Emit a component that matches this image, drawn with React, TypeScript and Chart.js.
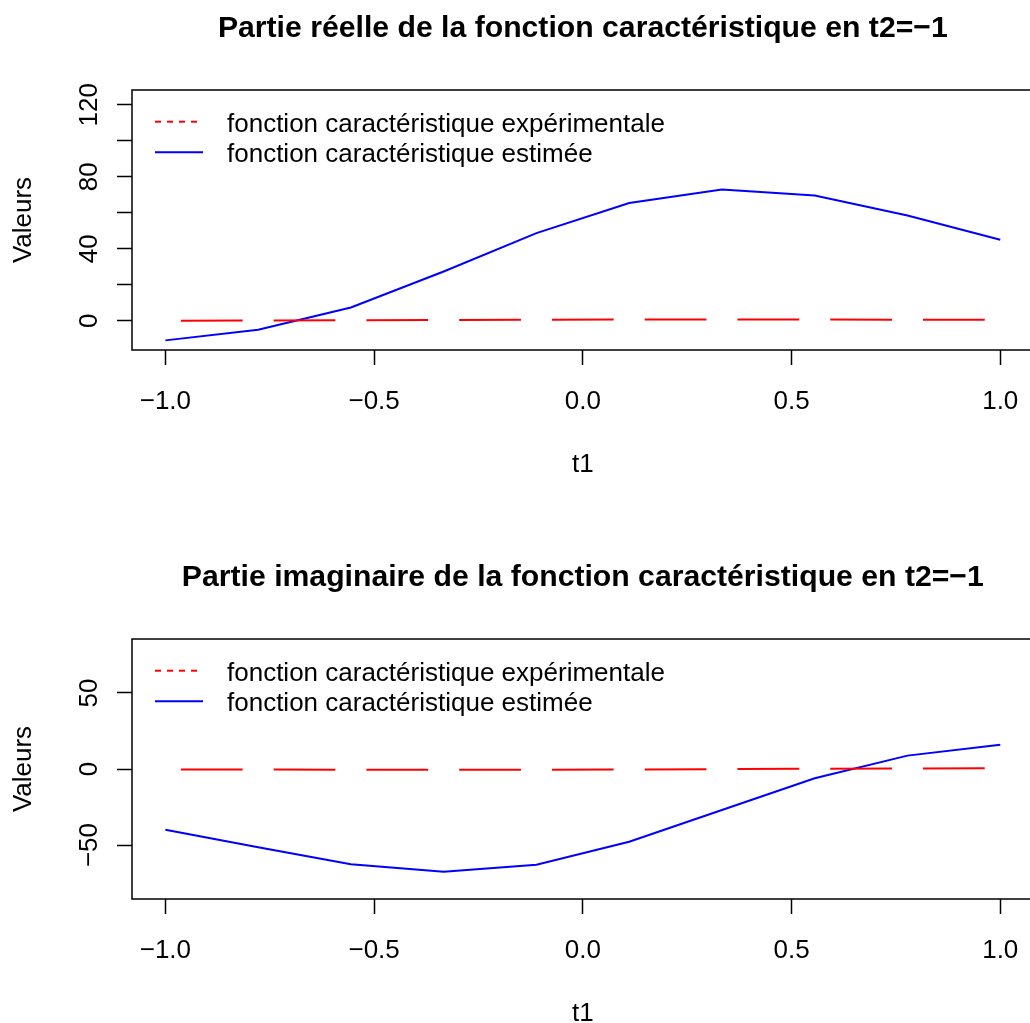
import React, { useEffect, useRef } from 'react';
import { Chart, registerables } from 'chart.js';

Chart.register(...registerables);

// ---------- data ----------
const t1Values = [-1, -0.7778, -0.5556, -0.3333, -0.1111, 0.1111, 0.3333, 0.5556, 0.7778, 1];

const reelExperimentale = [0.05, 0.15, 0.25, 0.4, 0.55, 0.7, 0.75, 0.7, 0.6, 0.5];
const reelEstimee = [-10.9, -5.0, 7.4, 27.4, 48.7, 65.4, 72.9, 69.6, 58.5, 45.0];

const imagExperimentale = [-0.3, -0.4, -0.45, -0.5, -0.45, -0.3, -0.1, 0.15, 0.35, 0.45];
const imagEstimee = [-40.0, -51.5, -62.7, -67.5, -63.0, -47.8, -27.0, -6.1, 8.8, 16.0];

const xRange = [-1.08, 1.08];
const xTickValues = [-1, -0.5, 0, 0.5, 1];
const xTickLabels = ['\u22121.0', '\u22120.5', '0.0', '0.5', '1.0'];

const reelYRange = [-16.25, 128.25];
const reelYTickValues = [0, 20, 40, 60, 80, 100, 120];
const reelYLabelValues = [0, 40, 80, 120];
const reelYLabels = ['0', '40', '80', '120'];

const imagYRange = [-85.5, 85.5];
const imagYTickValues = [-50, 0, 50];
const imagYLabelValues = [-50, 0, 50];
const imagYLabels = ['\u221250', '0', '50'];

const legendLabels = [
  'fonction caract\u00e9ristique exp\u00e9rimentale',
  'fonction caract\u00e9ristique estim\u00e9e',
];
const titleReel = 'Partie r\u00e9elle de la fonction caract\u00e9ristique en t2=\u22121';
const titleImag = 'Partie imaginaire de la fonction caract\u00e9ristique en t2=\u22121';
const xAxisTitle = 't1';
const yAxisTitle = 'Valeurs';

// ---------- style ----------
const FONT = '"Liberation Sans", Arial, Helvetica, sans-serif';
const TEXT_SIZE = 26;
const RED = '#FF0000';
const BLUE = '#0000FF';
const LINE_W = 2;
const CANVAS_W = 1040;
const CANVAS_H = 486;

const rDecor = {
  id: 'rDecor',
  afterDatasetsDraw(chart: any) {
    const ctx = chart.ctx;
    const a = chart.chartArea;
    const meta = chart.getDatasetMeta(0);
    const gap = 15.5;
    ctx.save();
    ctx.beginPath();
    ctx.rect(a.left, a.top, a.right - a.left, a.bottom - a.top);
    ctx.clip();
    ctx.strokeStyle = RED;
    ctx.lineWidth = LINE_W;
    ctx.lineCap = 'butt';
    for (let i = 0; i < meta.data.length - 1; i++) {
      const p = meta.data[i];
      const q = meta.data[i + 1];
      const dx = q.x - p.x;
      const dy = q.y - p.y;
      const L = Math.hypot(dx, dy);
      if (L <= 2 * gap) continue;
      const ux = dx / L;
      const uy = dy / L;
      ctx.beginPath();
      ctx.moveTo(p.x + ux * gap, p.y + uy * gap);
      ctx.lineTo(q.x - ux * gap, q.y - uy * gap);
      ctx.stroke();
    }
    ctx.restore();
  },
  afterDraw(chart: any, _args: any, opts: any) {
    const ctx = chart.ctx;
    const a = chart.chartArea;
    const ys = chart.scales.y;
    ctx.save();
    // box
    ctx.strokeStyle = '#000';
    ctx.lineWidth = 1.5;
    ctx.strokeRect(a.left, a.top, a.right - a.left, a.bottom - a.top);

    // title
    ctx.fillStyle = '#000';
    ctx.font = `bold 30.2px ${FONT}`;
    ctx.textAlign = 'center';
    ctx.textBaseline = 'alphabetic';
    ctx.fillText(opts.title, (a.left + a.right) / 2, 37);

    // y tick labels (rotated, R style)
    ctx.font = `${TEXT_SIZE}px ${FONT}`;
    (opts.yLabelValues as number[]).forEach((v, i) => {
      const y = ys.getPixelForValue(v);
      ctx.save();
      ctx.translate(97, y);
      ctx.rotate(-Math.PI / 2);
      ctx.textAlign = 'center';
      ctx.textBaseline = 'alphabetic';
      ctx.fillText(opts.yLabels[i], 0, 0);
      ctx.restore();
    });

    // legend
    const lx0 = a.left + 23;
    const lx1 = a.left + 71;
    const rows = [a.top + 31.7, a.top + 62.3];
    const colors = [RED, BLUE];
    const dashes = [[6, 6], []];
    rows.forEach((ry, i) => {
      ctx.beginPath();
      ctx.strokeStyle = colors[i];
      ctx.lineWidth = LINE_W;
      ctx.setLineDash(dashes[i]);
      ctx.moveTo(lx0, ry);
      ctx.lineTo(lx1, ry);
      ctx.stroke();
      ctx.setLineDash([]);
      ctx.fillStyle = '#000';
      ctx.textAlign = 'left';
      ctx.textBaseline = 'alphabetic';
      ctx.fillText(legendLabels[i], a.left + 95, ry + 10);
    });
    ctx.restore();
  },
};

function makeConfig(
  exp: number[],
  est: number[],
  yRange: number[],
  yTickValues: number[],
  yLabelValues: number[],
  yLabels: string[],
  title: string
): any {
  return {
    type: 'line',
    data: {
      datasets: [
        {
          label: legendLabels[0],
          data: t1Values.map((x, i) => ({ x, y: exp[i] })),
          showLine: false,
          pointRadius: 0,
          borderColor: RED,
        },
        {
          label: legendLabels[1],
          data: t1Values.map((x, i) => ({ x, y: est[i] })),
          borderColor: BLUE,
          borderWidth: LINE_W,
          pointRadius: 0,
          tension: 0,
          fill: false,
        },
      ],
    },
    options: {
      responsive: false,
      animation: false,
      events: [],
      layout: { padding: { top: 90, left: 0, right: 5, bottom: 0 } },
      plugins: {
        legend: { display: false },
        title: { display: false },
        tooltip: { enabled: false },
        rDecor: { title, yLabelValues, yLabels },
      },
      scales: {
        x: {
          type: 'linear',
          min: xRange[0],
          max: xRange[1],
          afterBuildTicks: (s: any) => {
            s.ticks = xTickValues.map((v) => ({ value: v }));
          },
          afterFit: (s: any) => {
            s.height = CANVAS_H - 350;
          },
          ticks: {
            autoSkip: false,
            maxRotation: 0,
            minRotation: 0,
            padding: 21.5,
            color: '#000',
            font: { family: FONT, size: TEXT_SIZE },
            callback: (v: number) => {
              const idx = xTickValues.findIndex((t) => Math.abs(t - v) < 1e-9);
              return idx >= 0 ? xTickLabels[idx] : '';
            },
          },
          grid: {
            drawOnChartArea: false,
            drawTicks: true,
            tickLength: 15,
            tickColor: '#000',
            tickWidth: 1.5,
          },
          border: { display: false },
          title: {
            display: true,
            text: xAxisTitle,
            color: '#000',
            font: { family: FONT, size: TEXT_SIZE },
            padding: { top: 0, bottom: 6 },
          },
        },
        y: {
          type: 'linear',
          min: yRange[0],
          max: yRange[1],
          afterBuildTicks: (s: any) => {
            s.ticks = yTickValues.map((v) => ({ value: v }));
          },
          afterFit: (s: any) => {
            s.width = 132;
          },
          ticks: { display: false },
          grid: {
            drawOnChartArea: false,
            drawTicks: true,
            tickLength: 15,
            tickColor: '#000',
            tickWidth: 1.5,
          },
          border: { display: false },
          title: {
            display: true,
            text: yAxisTitle,
            color: '#000',
            font: { family: FONT, size: TEXT_SIZE },
            padding: { top: 8.5, bottom: 0 },
          },
        },
      },
    },
    plugins: [rDecor],
  };
}

function Panel({ config, top }: { config: any; top: number }) {
  const ref = useRef<HTMLCanvasElement | null>(null);
  useEffect(() => {
    if (!ref.current) return;
    const chart = new Chart(ref.current, config);
    return () => chart.destroy();
  }, [config]);
  return (
    <div style={{ position: 'absolute', left: 0, top, width: CANVAS_W, height: CANVAS_H }}>
      <canvas ref={ref} width={CANVAS_W} height={CANVAS_H} style={{ width: CANVAS_W, height: CANVAS_H, display: 'block' }} />
    </div>
  );
}

const reelConfig = makeConfig(reelExperimentale, reelEstimee, reelYRange, reelYTickValues, reelYLabelValues, reelYLabels, titleReel);
const imagConfig = makeConfig(imagExperimentale, imagEstimee, imagYRange, imagYTickValues, imagYLabelValues, imagYLabels, titleImag);

export default function App() {
  return (
    <div
      style={{
        position: 'fixed',
        left: 0,
        top: 0,
        width: 1030,
        height: 1023,
        overflow: 'hidden',
        background: '#fff',
      }}
    >
      <Panel config={reelConfig} top={0} />
      <Panel config={imagConfig} top={549} />
    </div>
  );
}
